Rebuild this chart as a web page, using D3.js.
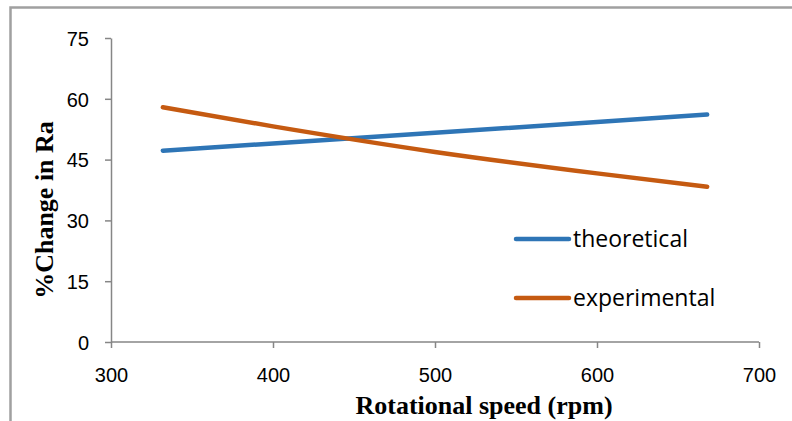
<!DOCTYPE html>
<html>
<head>
<meta charset="utf-8">
<script src="https://cdn.jsdelivr.net/npm/d3@7"></script>
<style>
  body { margin: 0; background: #fff; }
  .axis path, .axis line { stroke: #868686; stroke-width: 1.5; }
  .axis text { font-family: "Liberation Sans", Arial, sans-serif; font-size: 20px; fill: #000; }
  .title { font-family: "Liberation Serif", "Times New Roman", serif; font-weight: bold; font-size: 26px; fill: #000; }
  .legend text { font-family: "Open Sans", sans-serif; font-size: 23px; fill: #000; }
</style>
</head>
<body>
<svg width="792" height="421"></svg>
<script>
// values
var speeds = [332, 400, 500, 600, 668];
var theoretical = [47.2, 49.0, 51.6, 54.3, 56.1];
var experimental = [57.9, 53.2, 46.9, 41.6, 38.3];
var xTicks = [300, 400, 500, 600, 700];
var yTicks = [0, 15, 30, 45, 60, 75];
var seriesNames = ["theoretical", "experimental"];
var seriesColors = ["#2E75B6", "#C55A11"];

var svg = d3.select("svg"),
    margin = {top: 38, right: 33, bottom: 79, left: 111},
    width = +svg.attr("width") - margin.left - margin.right,
    height = +svg.attr("height") - margin.top - margin.bottom;

// outer frame (only top and left edges show)
svg.append("path")
    .attr("d", "M10.5,421 V7.5 H792")
    .attr("fill", "none")
    .attr("stroke", "#a0a0a0")
    .attr("stroke-width", 2.5);

var x = d3.scaleLinear().domain([300, 700]).range([0, width]),
    y = d3.scaleLinear().domain([0, 75]).range([height, 0]);

var g = svg.append("g")
    .attr("transform", "translate(" + margin.left + "," + margin.top + ")");

g.append("g")
    .attr("class", "axis axis--y")
    .call(d3.axisLeft(y).tickValues(yTicks).tickSize(6).tickPadding(16).tickSizeOuter(0))
    .selectAll("text").attr("dy", "0.36em");

g.append("g")
    .attr("class", "axis axis--x")
    .attr("transform", "translate(0," + height + ")")
    .call(d3.axisBottom(x).tickValues(xTicks).tickSize(6).tickPadding(20).tickSizeOuter(0))
    .call(function(a) { a.select(".domain").attr("d", "M0,0H" + width); });

var series = [theoretical, experimental];

var lineStraight = d3.line()
    .x(function(d, i) { return x(speeds[i]); })
    .y(function(d) { return y(d); });

var lineSmooth = d3.line()
    .curve(d3.curveMonotoneX)
    .x(function(d, i) { return x(speeds[i]); })
    .y(function(d) { return y(d); });

series.forEach(function(s, k) {
    g.append("path")
        .datum(s)
        .attr("fill", "none")
        .attr("stroke", seriesColors[k])
        .attr("stroke-width", 4.5)
        .attr("stroke-linecap", "round")
        .attr("d", k === 0 ? lineStraight : lineSmooth);
});

// legend
var legend = svg.append("g").attr("class", "legend");
seriesNames.forEach(function(name, k) {
    var ly = 239 + k * 59;
    legend.append("line")
        .attr("x1", 516).attr("x2", 569)
        .attr("y1", ly).attr("y2", ly)
        .attr("stroke", seriesColors[k])
        .attr("stroke-width", 4.5)
        .attr("stroke-linecap", "round");
    legend.append("text")
        .attr("x", 573)
        .attr("y", ly + 8)
        .text(name);
});

// axis titles
svg.append("text")
    .attr("class", "title")
    .attr("x", 484)
    .attr("y", 414)
    .attr("text-anchor", "middle")
    .text("Rotational speed (rpm)");

svg.append("text")
    .attr("class", "title")
    .attr("transform", "translate(53,210) rotate(-90)")
    .attr("text-anchor", "middle")
    .text("%Change in Ra");
</script>
</body>
</html>
